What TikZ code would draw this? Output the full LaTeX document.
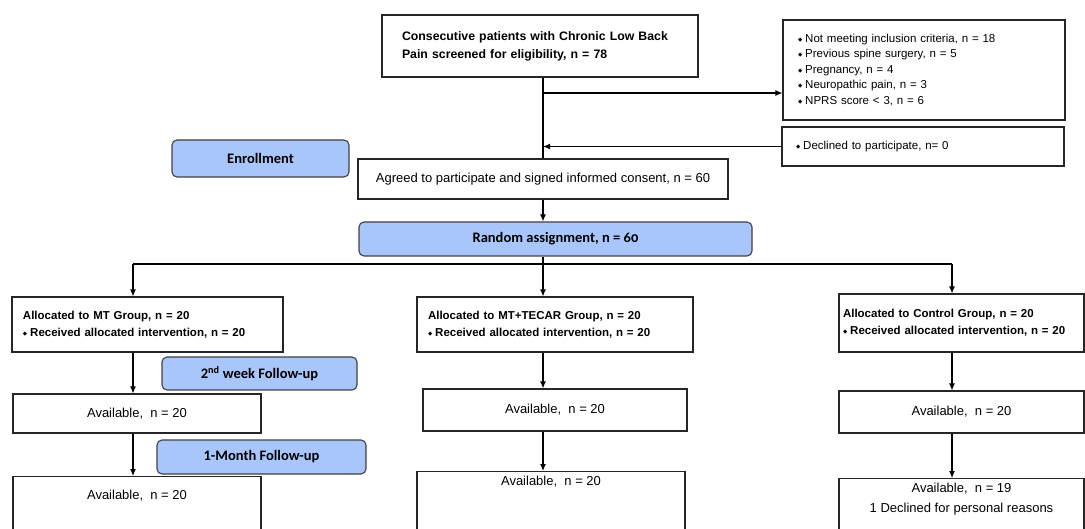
\documentclass[tikz,border=0pt]{standalone}
\usepackage{fontspec}
\setmainfont{Liberation Sans}
\newfontfamily\calib{Carlito}
\newfontfamily\calibold[Numbers=OldStyle]{Carlito}
\newfontfamily\symb{DejaVu Sans}
\usetikzlibrary{arrows.meta}
\definecolor{phaseblue}{RGB}{169,198,250}
\newcommand{\bul}{{\symb\fontsize{5.5}{5.5}\selectfont\raisebox{1pt}{◆}}\hspace{3pt}}

\begin{document}
\begin{tikzpicture}[x=1pt, y=-1pt,
    frame/.style={draw=black!85, line width=1.1pt, rectangle, inner sep=0pt},
    phase/.style={draw=black!75, line width=1.1pt, fill=phaseblue, rounded corners=5pt, inner sep=0pt,
        font=\calib\bfseries\fontsize{14.5}{16}\selectfont},
    arr/.style={-{Latex[length=7pt,width=6pt]}, line width=1.1pt},
    plain/.style={font=\fontsize{13}{20}\selectfont, align=center},
    small/.style={font=\fontsize{11.5}{15.5}\selectfont, align=left},
    group/.style={font=\fontsize{11.5}{17}\selectfont\bfseries, align=left}]
    \useasboundingbox (0,0) rectangle (1085,529);
    \clip (0,0) rectangle (1085,529);

    \node[frame, minimum width=316pt, minimum height=62pt, text width=276pt, inner xsep=20pt, align=left,
        font=\fontsize{12.3}{18}\selectfont\bfseries] (screen) at (540,46)
        {Consecutive patients with Chronic Low Back\\Pain screened for eligibility, n = 78};
    \node[frame, small, minimum width=282pt, minimum height=100pt, text width=252pt, inner xsep=15pt] (excl) at (924,70)
        {\bul Not meeting inclusion criteria, n = 18\\\bul Previous spine surgery, n = 5\\\bul Pregnancy, n = 4\\
         \bul Neuropathic pain, n = 3\\\bul NPRS score < 3, n = 6};
    \node[frame, small, minimum width=282pt, minimum height=39pt, text width=254pt, inner xsep=14pt] (declined) at (923,146.5)
        {\bul Declined to participate, n= 0};

    \node[phase, minimum width=177pt, minimum height=37pt] (enroll) at (260.5,158.5) {Enrollment};
    \node[frame, plain, minimum width=370pt, minimum height=40pt] (agreed) at (543,179)
        {Agreed to participate and signed informed consent, n = 60};
    \node[phase, minimum width=393pt, minimum height=34pt] (random) at (555.5,239) {\calibold Random assignment, n = 60};

    \node[frame, group, minimum width=271pt, minimum height=55pt, text width=249pt, inner xsep=11pt] (mt) at (147.5,324.5)
        {Allocated to MT Group, n = 20\\\bul Received allocated intervention, n = 20};
    \node[frame, group, minimum width=276pt, minimum height=55pt, text width=254pt, inner xsep=11pt] (mid) at (555,324.5)
        {Allocated to MT+TECAR Group, n = 20\\\bul Received allocated intervention, n = 20};
    \node[frame, group, minimum width=245pt, minimum height=58pt, text width=237pt, inner xsep=4pt] (ctrl) at (961.5,323)
        {Allocated to Control Group, n = 20\\\bul Received allocated intervention, n = 20};

    \node[phase, minimum width=195pt, minimum height=33pt] (week) at (259.5,373.5) {2\textsuperscript{nd} week Follow-up};
    \node[phase, minimum width=209pt, minimum height=34pt] (month) at (261.5,457) {1-Month Follow-up};

    \node[frame, plain, minimum width=248pt, minimum height=39pt] (avA1) at (137,413.5) {Available,~ n = 20};
    \node[frame, plain, minimum width=264pt, minimum height=42pt] (avB1) at (555,410) {Available,~ n = 20};
    \node[frame, plain, minimum width=245pt, minimum height=42pt] (avC1) at (961.5,412) {Available,~ n = 20};

    \node[frame, plain, anchor=north, minimum width=248pt, inner ysep=14pt, text depth=60pt] (avA2) at (137,476) {Available,~ n = 20};
    \node[frame, plain, anchor=north, minimum width=268pt, inner ysep=5pt, text depth=60pt] (avB2) at (551,471) {Available,~ n = 20};
    \node[frame, plain, anchor=north, minimum width=245pt, inner ysep=5pt, text depth=60pt] (avC2) at (961.5,478)
        {Available,~ n = 19\\1 Declined for personal reasons};

    \coordinate (trunk) at (543,93);
    \coordinate (split) at (543,264);
    \coordinate (sL) at (133,264);
    \coordinate (sR) at (952,264);

    \draw[line width=1.1pt] (trunk |- screen.south) -- (trunk |- agreed.north);
    \draw[arr] (trunk) -- (trunk -| excl.west);
    \draw[arr] (declined.west) -- (declined.west -| trunk);
    \draw[arr] (trunk |- agreed.south) -- (trunk |- random.north);
    \draw[line width=1.1pt] (split |- random.south) -- (split);
    \draw[line width=1.1pt] (sL) -- (sR);
    \foreach \c/\b in {sL/mt, split/mid, sR/ctrl}
        \draw[arr] (\c) -- (\c |- \b.north);
    \foreach \c/\a/\b in {sL/mt/avA1, sL/avA1/avA2, split/mid/avB1, split/avB1/avB2, sR/ctrl/avC1, sR/avC1/avC2}
        \draw[arr] (\c |- \a.south) -- (\c |- \b.north);
\end{tikzpicture}
\end{document}
